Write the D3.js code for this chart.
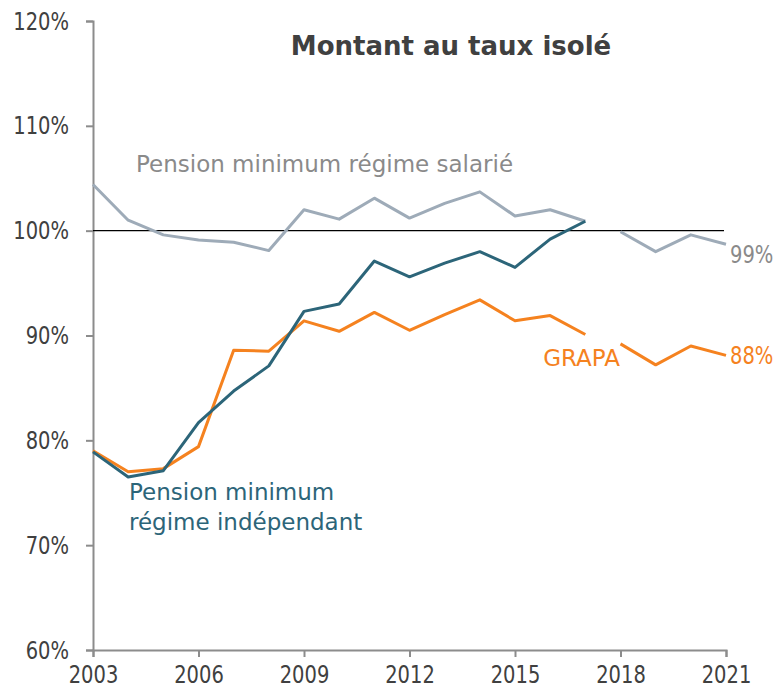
<!DOCTYPE html>
<html>
<head>
<meta charset="utf-8">
<script src="https://cdn.jsdelivr.net/npm/d3@7"></script>
<style>
  body { margin: 0; background: #fff; }
  text { font-family: "DejaVu Sans", sans-serif; }
</style>
</head>
<body>
<svg id="chart"></svg>
<script>
const width = 778, height = 687;

// Data (ratios in %), series broken between 2017 and 2018
const years1 = [2003, 2004, 2005, 2006, 2007, 2008, 2009, 2010, 2011, 2012, 2013, 2014, 2015, 2016, 2017];
const years2 = [2018, 2019, 2020, 2021];
const salarie1 = [104.4, 101.0, 99.6, 99.1, 98.9, 98.1, 102.0, 101.1, 103.1, 101.2, 102.6, 103.7, 101.4, 102.0, 100.9];
const salarie2 = [99.9, 98.0, 99.6, 98.7];
const independant = [78.9, 76.5, 77.1, 81.7, 84.7, 87.1, 92.3, 93.0, 97.1, 95.6, 96.9, 98.0, 96.5, 99.2, 100.9];
const grapa1 = [79.0, 77.0, 77.3, 79.4, 88.6, 88.5, 91.4, 90.4, 92.2, 90.5, 92.0, 93.4, 91.4, 91.9, 90.1];
const grapa2 = [89.2, 87.2, 89.0, 88.1];
const xTicks = [2003, 2006, 2009, 2012, 2015, 2018, 2021];
const yTicks = [60, 70, 80, 90, 100, 110, 120];

const margin = {top: 21, right: 52, bottom: 37, left: 93};
// narrow numbers: horizontally squeezed DejaVu Sans
const sq = 0.78;

const svg = d3.select("#chart")
  .attr("width", width)
  .attr("height", height);

const x = d3.scaleLinear()
  .domain([2003, 2021])
  .range([margin.left, width - margin.right]);

const y = d3.scaleLinear()
  .domain([60, 120])
  .range([height - margin.bottom, margin.top]);

// y axis
const yAxis = svg.append("g")
  .attr("transform", `translate(${margin.left},0)`)
  .call(d3.axisLeft(y).tickValues(yTicks).tickSize(7).tickSizeOuter(7).tickFormat(d => d + "%"));
yAxis.select(".domain").attr("stroke", "#8c8c8c").attr("stroke-width", 2);
yAxis.selectAll(".tick line").attr("stroke", "#8c8c8c").attr("stroke-width", 2);
yAxis.selectAll(".tick text")
  .attr("x", -24 / sq)
  .attr("transform", `scale(${sq},1)`)
  .attr("font-size", 25)
  .attr("fill", "#404040");

// x axis
const xAxis = svg.append("g")
  .attr("transform", `translate(0,${height - margin.bottom})`)
  .call(d3.axisBottom(x).tickValues(xTicks).tickSize(7).tickSizeOuter(7).tickFormat(d3.format("d")));
xAxis.select(".domain").attr("stroke", "#8c8c8c").attr("stroke-width", 2);
xAxis.selectAll(".tick line").attr("stroke", "#8c8c8c").attr("stroke-width", 2);
xAxis.selectAll(".tick text")
  .attr("y", 15)
  .attr("transform", `scale(${sq},1)`)
  .attr("font-size", 25)
  .attr("fill", "#404040");

// 100% reference line
svg.append("line")
  .attr("x1", x(2003)).attr("x2", x(2021) - 2)
  .attr("y1", y(100)).attr("y2", y(100))
  .attr("stroke", "#000").attr("stroke-width", 1.2);

const line = d3.line()
  .x(d => x(d[0]))
  .y(d => y(d[1]));

function drawLine(years, values, color) {
  svg.append("path")
    .datum(d3.zip(years, values))
    .attr("fill", "none")
    .attr("stroke", color)
    .attr("stroke-width", 3)
    .attr("stroke-linejoin", "round")
    .attr("d", line);
}

const cSal = "#9eabb8", cInd = "#2c6579", cGrapa = "#f5821f";
drawLine(years1, salarie1, cSal);
drawLine(years2, salarie2, cSal);
drawLine(years1, grapa1, cGrapa);
drawLine(years2, grapa2, cGrapa);
drawLine(years1, independant, cInd);

// title
svg.append("text")
  .attr("x", 451).attr("y", 55)
  .attr("text-anchor", "middle")
  .attr("font-size", 26)
  .attr("font-weight", "bold")
  .attr("fill", "#404040")
  .text("Montant au taux isolé");

// series labels
svg.append("text")
  .attr("x", 136).attr("y", 172)
  .attr("font-size", 23)
  .attr("fill", "#8a8a8a")
  .text("Pension minimum régime salarié");

const indLabel = svg.append("text")
  .attr("x", 129).attr("y", 500)
  .attr("font-size", 23)
  .attr("fill", cInd);
indLabel.append("tspan").attr("x", 129).text("Pension minimum");
indLabel.append("tspan").attr("x", 129).attr("dy", 30).text("régime indépendant");

svg.append("text")
  .attr("x", 620).attr("y", 366)
  .attr("text-anchor", "end")
  .attr("font-size", 23)
  .attr("fill", cGrapa)
  .text("GRAPA");

svg.append("text")
  .attr("x", (x(2021) + 4) / sq).attr("y", 263)
  .attr("transform", `scale(${sq},1)`)
  .attr("font-size", 25)
  .attr("fill", "#8a8a8a")
  .text("99%");

svg.append("text")
  .attr("x", (x(2021) + 4) / sq).attr("y", 364)
  .attr("transform", `scale(${sq},1)`)
  .attr("font-size", 25)
  .attr("fill", cGrapa)
  .text("88%");
</script>
</body>
</html>
